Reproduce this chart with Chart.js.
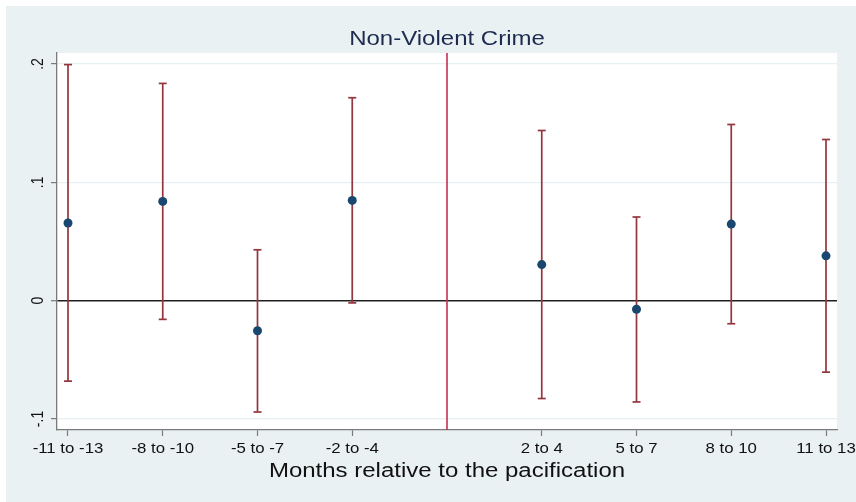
<!DOCTYPE html>
<html>
<head>
<meta charset="utf-8">
<script src="https://cdn.jsdelivr.net/npm/chart.js@4/dist/chart.umd.min.js"></script>
<style>
  html, body { margin: 0; padding: 0; background: #ffffff; }
  #wrap { width: 856px; height: 502px; }
</style>
</head>
<body>
<div id="wrap"><canvas id="c" width="856" height="502"></canvas></div>
<script>
// Event-study estimates with 95% confidence intervals
const periods = ['-11 to -13', '-8 to -10', '-5 to -7', '-2 to -4', '2 to 4', '5 to 7', '8 to 10', '11 to 13'];
const periodIndex = [-4, -3, -2, -1, 1, 2, 3, 4];
const estimate = [0.0656, 0.0839, -0.0254, 0.0847, 0.0305, -0.0073, 0.0647, 0.0379];
const ciLower = [-0.0680, -0.0158, -0.0941, -0.0019, -0.0827, -0.0856, -0.0195, -0.0604];
const ciUpper = [0.1995, 0.1836, 0.0430, 0.1715, 0.1438, 0.0707, 0.1489, 0.1362];
const yTicks = [-0.1, 0, 0.1, 0.2];
const yTickLabels = ['-.1', '0', '.1', '.2'];
const titleText = 'Non-Violent Crime';
const xTitleText = 'Months relative to the pacification';

const FONT = '"Liberation Sans", Arial, Helvetica, sans-serif';
const STRETCH = 1.2;
const AXIS_GRAY = '#7a7a7a';
const BAR_COLOR = '#94363E';
const DOT_COLOR = '#1A476F';

// Interval segments: lower end, upper end, then a gap before the next period
const intervalData = periodIndex.flatMap((p, i) => [
  { x: p, y: ciLower[i] },
  { x: p, y: ciUpper[i] },
  { x: p, y: null }
]);
const pointData = periodIndex.map((p, i) => ({ x: p, y: estimate[i] }));

const backdrop = {
  id: 'backdrop',
  beforeDraw(chart) {
    const { ctx, width, height, chartArea: a } = chart;
    ctx.save();
    ctx.fillStyle = '#ffffff';
    ctx.fillRect(0, 0, width, height);
    ctx.fillStyle = '#EAF1F3';
    ctx.fillRect(6, 6, width - 6, height - 6);
    ctx.fillStyle = '#ffffff';
    ctx.fillRect(a.left, a.top, a.right - a.left, a.bottom - a.top);
    ctx.restore();
  }
};

// Vertical marker at the pacification date
const eventLine = {
  id: 'eventLine',
  beforeDatasetsDraw(chart) {
    const { ctx, chartArea: a, scales: { x } } = chart;
    const px = x.getPixelForValue(0);
    ctx.save();
    ctx.strokeStyle = '#C3304F';
    ctx.lineWidth = 1.6;
    ctx.beginPath();
    ctx.moveTo(px, a.top);
    ctx.lineTo(px, a.bottom);
    ctx.stroke();
    ctx.restore();
  }
};

// Titles and tick labels, set in a slightly widened face
const labels = {
  id: 'labels',
  afterDraw(chart) {
    const { ctx, chartArea: a, scales: { x, y } } = chart;
    const put = (text, px, py, size, color, rotate) => {
      ctx.save();
      ctx.translate(px, py);
      ctx.scale(STRETCH, 1);
      if (rotate) ctx.rotate(-Math.PI / 2);
      ctx.font = size + 'px ' + FONT;
      ctx.fillStyle = color;
      ctx.textAlign = 'center';
      ctx.textBaseline = 'alphabetic';
      ctx.fillText(text, 0, 0);
      ctx.restore();
    };
    const cx = (a.left + a.right) / 2;
    put(titleText, cx, 45, 20, '#1C2B4F');
    periodIndex.forEach((p, i) => put(periods[i], x.getPixelForValue(p), 453, 14, '#111111'));
    yTicks.forEach((v, i) => put(yTickLabels[i], 43, y.getPixelForValue(v), 14, '#111111', true));
    put(xTitleText, cx, 477, 20, '#111111');
  }
};

new Chart(document.getElementById('c'), {
  type: 'scatter',
  data: {
    datasets: [
      {
        type: 'scatter',
        data: pointData,
        order: 0,
        pointRadius: 4.5,
        pointBackgroundColor: DOT_COLOR,
        pointBorderColor: DOT_COLOR,
        pointBorderWidth: 0
      },
      {
        type: 'line',
        data: intervalData,
        order: 1,
        showLine: true,
        spanGaps: false,
        fill: false,
        borderColor: BAR_COLOR,
        borderWidth: 1.7,
        pointStyle: 'line',
        pointRadius: 4,
        pointBorderColor: BAR_COLOR,
        pointBorderWidth: 1.7,
        pointBackgroundColor: BAR_COLOR
      }
    ]
  },
  options: {
    responsive: false,
    animation: false,
    devicePixelRatio: 1,
    events: [],
    layout: { padding: { top: 53, right: 19, left: 0, bottom: 0 } },
    plugins: {
      legend: { display: false },
      title: { display: false },
      tooltip: { enabled: false }
    },
    scales: {
      x: {
        type: 'linear',
        min: -4.116,
        max: 4.116,
        afterBuildTicks: s => { s.ticks = periodIndex.map(v => ({ value: v })); },
        afterFit: s => { s.height = 72; },
        ticks: { display: false },
        grid: {
          drawOnChartArea: false,
          drawTicks: true,
          tickLength: 6,
          tickColor: AXIS_GRAY,
          tickWidth: 1.2
        },
        border: { display: true, color: AXIS_GRAY, width: 1.3 }
      },
      y: {
        type: 'linear',
        min: -0.1093,
        max: 0.2093,
        afterBuildTicks: s => { s.ticks = yTicks.map(v => ({ value: v })); },
        afterFit: s => { s.width = 57; },
        ticks: { display: false },
        grid: {
          drawOnChartArea: true,
          drawTicks: true,
          tickLength: 6,
          color: c => (c.tick && c.tick.value === 0 ? '#1f1f1f' : '#E6EFF1'),
          lineWidth: c => (c.tick && c.tick.value === 0 ? 1.4 : 1.2),
          tickColor: AXIS_GRAY,
          tickWidth: 1.2
        },
        border: { display: true, color: AXIS_GRAY, width: 1.3 }
      }
    }
  },
  plugins: [backdrop, eventLine, labels]
});
</script>
</body>
</html>
